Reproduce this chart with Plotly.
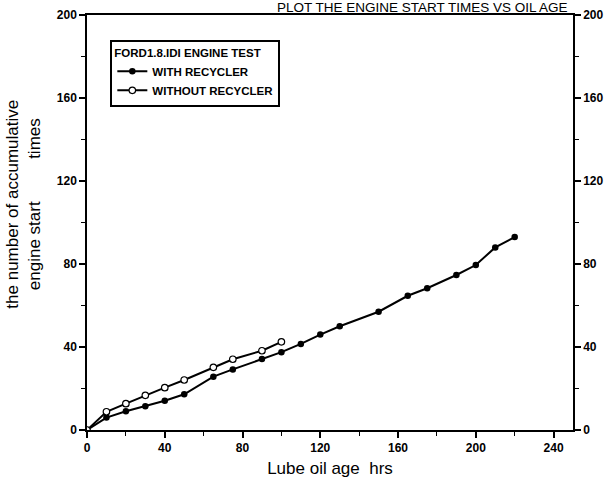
import plotly.graph_objects as go

# Lube oil age (hrs) and accumulated engine start count
hours_with = [0, 10, 20, 30, 40, 50, 65, 75, 90, 100, 110, 120, 130, 150, 165, 175, 190, 200, 210, 220]
starts_with = [0, 6, 9, 11.4, 14.1, 17.2, 25.7, 29.2, 34.2, 37.5, 41.5, 46, 50, 57, 64.7, 68.3, 74.7, 79.5, 88, 93]

hours_without = [0, 10, 20, 30, 40, 50, 65, 75, 90, 100]
starts_without = [0, 8.8, 12.7, 16.7, 20.4, 24.1, 30.2, 34.1, 38.2, 42.5]

x_ticks = [0, 40, 80, 120, 160, 200, 240]
y_ticks = [0, 40, 80, 120, 160, 200]

FONT = "Liberation Sans, Arial, sans-serif"

fig = go.Figure()
fig.add_trace(go.Scatter(
    x=hours_with, y=starts_with, mode="lines+markers", name="WITH RECYCLER",
    line=dict(color="black", width=2),
    marker=dict(symbol="circle", size=6.5, color="black"),
))
fig.add_trace(go.Scatter(
    x=hours_without, y=starts_without, mode="lines+markers", name="WITHOUT RECYCLER",
    line=dict(color="black", width=2),
    marker=dict(symbol="circle", size=6.5, color="white", line=dict(color="black", width=1.2)),
))
# invisible trace that carries the right-hand axis
fig.add_trace(go.Scatter(x=[None], y=[None], yaxis="y2", showlegend=False, hoverinfo="skip"))

tickfont = dict(family=FONT, size=12, color="black", weight="bold")
minor_ticks = dict(dtick=20, tick0=0, ticks="outside", ticklen=4, tickcolor="black", tickwidth=1.2)

fig.update_layout(
    width=606, height=487,
    margin=dict(l=87, r=33, t=15, b=57, autoexpand=False),
    paper_bgcolor="white", plot_bgcolor="white",
    showlegend=True,
    legend=dict(
        x=0.048, y=0.94, xanchor="left", yanchor="top",
        bgcolor="white", bordercolor="black", borderwidth=2,
        font=dict(family=FONT, size=11.5, color="black", weight="bold"),
        title=dict(text="FORD1.8.IDI ENGINE TEST",
                   font=dict(family=FONT, size=11.5, color="black", weight="bold")),
        itemwidth=30, tracegroupgap=0,
    ),
    xaxis=dict(
        range=[0, 250], tickvals=x_ticks, ticks="outside", ticklen=6, tickwidth=1.5,
        tickcolor="black", showline=True, linecolor="black", linewidth=1.5,
        mirror=True, showgrid=False, zeroline=False, tickfont=tickfont,
        minor=minor_ticks,
        title=dict(text="Lube oil age\u00a0\u00a0hrs", font=dict(family=FONT, size=17, color="black"), standoff=8),
    ),
    yaxis=dict(
        range=[0, 200], tickvals=y_ticks, ticks="outside", ticklen=6, tickwidth=1.5,
        tickcolor="black", showline=True, linecolor="black", linewidth=1.5,
        showgrid=False, zeroline=False, tickfont=tickfont, minor=minor_ticks,
    ),
    yaxis2=dict(
        range=[0, 200], tickvals=y_ticks, ticks="outside", ticklen=6, tickwidth=1.5,
        tickcolor="black", showline=True, linecolor="black", linewidth=1.5,
        showgrid=False, zeroline=False, tickfont=tickfont, side="right", overlaying="y",
        minor=minor_ticks,
    ),
)

fig.add_annotation(
    text="the number of accumulative<br>engine start" + "\u00a0" * 9 + "times",
    xref="paper", yref="paper", x=-0.13, y=0.545, xanchor="center", yanchor="middle",
    textangle=-90, showarrow=False,
    font=dict(family=FONT, size=17, color="black"),
)

fig.add_annotation(
    text="PLOT THE ENGINE START TIMES VS OIL AGE",
    xref="paper", yref="paper", x=0.69, y=1.0, xanchor="center", yanchor="bottom",
    showarrow=False, borderpad=0, yshift=-1,
    font=dict(family=FONT, size=13.5, color="black"),
)

fig.write_html("out.html")
